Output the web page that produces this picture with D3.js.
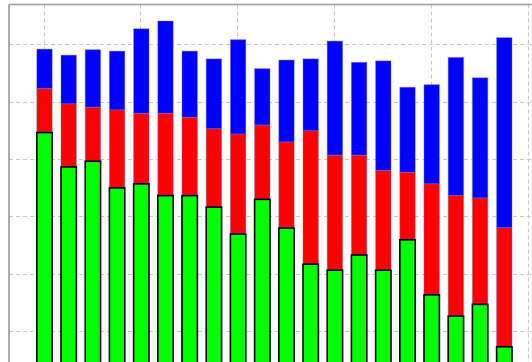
<!DOCTYPE html>
<html>
<head>
<meta charset="utf-8">
<script src="https://cdn.jsdelivr.net/npm/d3@7/dist/d3.min.js"></script>
<style>
  html, body { margin: 0; padding: 0; background: #fff; }
  svg { display: block; }
</style>
</head>
<body>
<div id="chart"></div>
<script>
// Twenty stacked columns: green base, red middle, blue top
const categories = d3.range(1, 21);
const greenValues = [89.2, 77.2, 79.2, 69.9, 71.3, 67.2, 67.2, 63.2, 53.8, 65.9,
                     55.9, 43.3, 41.2, 46.5, 41.2, 51.8, 32.6, 25.2, 29.3, 14.5];
const redValues   = [15.3, 22.0, 18.8, 27.2, 24.6, 28.7, 27.3, 27.3, 34.9, 25.9,
                     30.0, 46.5, 40.1, 34.8, 34.7, 23.5, 38.7, 42.0, 37.1, 41.5];
const blueValues  = [13.8, 17.0, 20.1, 20.5, 29.5, 32.2, 23.1, 24.4, 32.9, 19.7,
                     28.6, 25.1, 39.8, 32.4, 38.3, 29.7, 34.6, 48.2, 41.9, 66.3];
const xTicks = [1, 5, 9, 13, 17, 21];
const yTicks = [20, 40, 60, 80, 100, 120];

const W = 532, H = 362;
const plot = { left: 9, top: 4.5 };
const step = 24.2;

const svg = d3.select("#chart").append("svg")
  .attr("width", W).attr("height", H);

// x: category number -> column centre
const x = d3.scaleLinear()
  .domain([1, 21])
  .range([44.5, 44.5 + 20 * step]);
// y: value -> pixel
const y = d3.scaleLinear()
  .domain([0, 120])
  .range([388.35, 388.35 - 6 * 57.35]);

const barW = 15.4;

// dashed grid
const grid = svg.append("g")
  .attr("stroke", "#c8c8c8")
  .attr("stroke-width", 1)
  .attr("stroke-dasharray", "4,3");
grid.selectAll("line.v").data(xTicks).join("line")
  .attr("class", "v")
  .attr("x1", d => Math.round(x(d)) - 0.5).attr("x2", d => Math.round(x(d)) - 0.5)
  .attr("y1", plot.top).attr("y2", H + 40);
grid.selectAll("line.h").data(yTicks).join("line")
  .attr("class", "h")
  .attr("x1", plot.left).attr("x2", W + 20)
  .attr("y1", d => Math.round(y(d)) + 0.5).attr("y2", d => Math.round(y(d)) + 0.5);

// stacked layout
const rows = categories.map((c, i) => ({
  cat: c, green: greenValues[i], red: redValues[i], blue: blueValues[i]
}));
const stack = d3.stack().keys(["green", "red", "blue"])(rows);
const fills = { green: "#00ff00", red: "#ff0000", blue: "#0000ff" };

const order = ["blue", "red", "green"];
order.forEach(key => {
  const layer = stack.find(s => s.key === key);
  svg.append("g").selectAll("rect").data(layer).join("rect")
    .attr("x", d => x(d.data.cat) - barW / 2)
    .attr("width", barW)
    .attr("y", d => y(d[1]))
    .attr("height", d => y(d[0]) - y(d[1]))
    .attr("fill", fills[key])
    .attr("stroke", key === "green" ? "#000" : "rgba(110,110,200,0.4)")
    .attr("stroke-width", key === "green" ? 1.6 : 1);
});

// axes frame (left and top edges)
const frame = svg.append("g").attr("stroke", "#9a9a9a").attr("stroke-width", 1.6);
frame.append("line").attr("x1", plot.left).attr("x2", plot.left)
  .attr("y1", plot.top).attr("y2", H);
frame.append("line").attr("x1", plot.left).attr("x2", W)
  .attr("y1", plot.top).attr("y2", plot.top);
</script>
</body>
</html>
